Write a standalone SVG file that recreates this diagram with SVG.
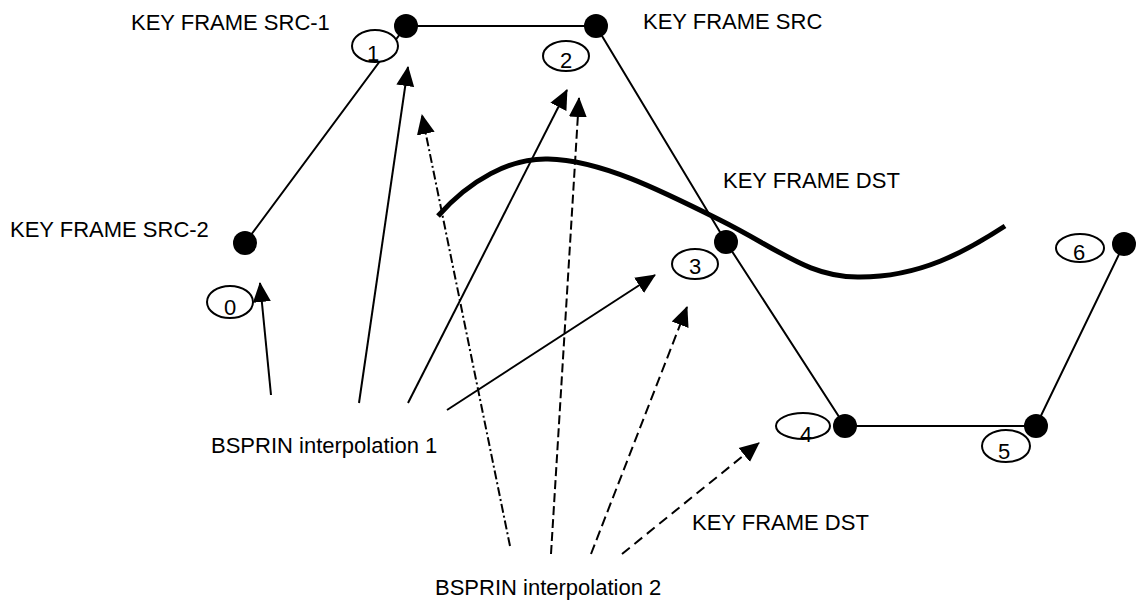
<svg xmlns="http://www.w3.org/2000/svg" width="1143" height="605" viewBox="0 0 1143 605">
<defs>
<style>
.t{font-family:"Liberation Sans",Arial,sans-serif;font-size:22px;fill:#000}
.d{font-family:"Liberation Sans",Arial,sans-serif;font-size:22px;fill:#000;text-anchor:middle}
.ln{stroke:#000;stroke-width:2;fill:none}
.lbl{fill:#fff;stroke:#000;stroke-width:2}
.dot{fill:#000}
.a{stroke:#000;stroke-width:2;fill:none;marker-end:url(#ah)}
</style>
<marker id="ah" markerUnits="userSpaceOnUse" markerWidth="20" markerHeight="20" viewBox="0 0 20 20" refX="19" refY="10" orient="auto">
<path d="M0,1 L20,10 L0,19 z" fill="#000"/>
</marker>
</defs>
<rect width="1143" height="605" fill="#fff"/>
<g id="connectors">
<polyline class="ln" points="245,243 406,26 596,26 726,242 845,426 1036,426 1124,244"/>
<path d="M438,216 C470,180 510,158 548,159 C600,160 660,190 720,220 C780,250 810,278 860,277 C920,277 965,252 1005,226" stroke="#000" stroke-width="5" fill="none"/>
<line class="a" x1="271" y1="395" x2="260" y2="283"/>
<line class="a" x1="359" y1="403" x2="408" y2="67"/>
<line class="a" x1="408" y1="403" x2="567" y2="90"/>
<line class="a" x1="447" y1="410" x2="655" y2="275"/>
<line class="a" x1="510" y1="546" x2="422" y2="115" stroke-dasharray="9,3,2,3"/>
<line class="a" x1="551" y1="554" x2="579" y2="98" stroke-width="3" stroke-dasharray="9,4"/>
<line class="a" x1="591" y1="554" x2="687" y2="307" stroke-width="2.5" stroke-dasharray="10,5"/>
<line class="a" x1="622" y1="554" x2="759" y2="443" stroke-width="2.5" stroke-dasharray="10,6"/>
</g>
<g id="n0"><ellipse class="lbl" cx="230" cy="302" rx="23" ry="16"/><text class="d" x="230" y="315">0</text><circle class="dot" cx="245" cy="243" r="12"/><text class="t" x="10" y="237">KEY FRAME SRC-2</text></g>
<g id="n1"><ellipse class="lbl" cx="375" cy="46" rx="23" ry="16"/><text class="d" x="373" y="61">1</text><circle class="dot" cx="406" cy="26" r="12"/><text class="t" x="131" y="30">KEY FRAME SRC-1</text></g>
<g id="n2"><ellipse class="lbl" cx="566" cy="56" rx="23" ry="15"/><text class="d" x="566" y="68">2</text><circle class="dot" cx="596" cy="26" r="12"/><text class="t" x="643" y="29">KEY FRAME SRC</text></g>
<g id="n3"><ellipse class="lbl" cx="695" cy="264" rx="23" ry="15"/><text class="d" x="695" y="274">3</text><circle class="dot" cx="726" cy="242" r="12"/><text class="t" x="723" y="188">KEY FRAME DST</text></g>
<g id="n4"><ellipse class="lbl" cx="803" cy="426" rx="27" ry="13"/><text class="d" x="806" y="442">4</text><circle class="dot" cx="845" cy="426" r="12"/></g>
<g id="n5"><ellipse class="lbl" cx="1006" cy="446" rx="24" ry="16"/><text class="d" x="1004" y="459">5</text><circle class="dot" cx="1036" cy="426" r="12"/></g>
<g id="n6"><ellipse class="lbl" cx="1080" cy="248" rx="24" ry="14"/><text class="d" x="1079" y="260">6</text><circle class="dot" cx="1124" cy="244" r="12"/></g>
<g id="labels">
<text class="t" x="211" y="453">BSPRIN interpolation 1</text>
<text class="t" x="435" y="595">BSPRIN interpolation 2</text>
<text class="t" x="692" y="530">KEY FRAME DST</text>
</g>
</svg>
